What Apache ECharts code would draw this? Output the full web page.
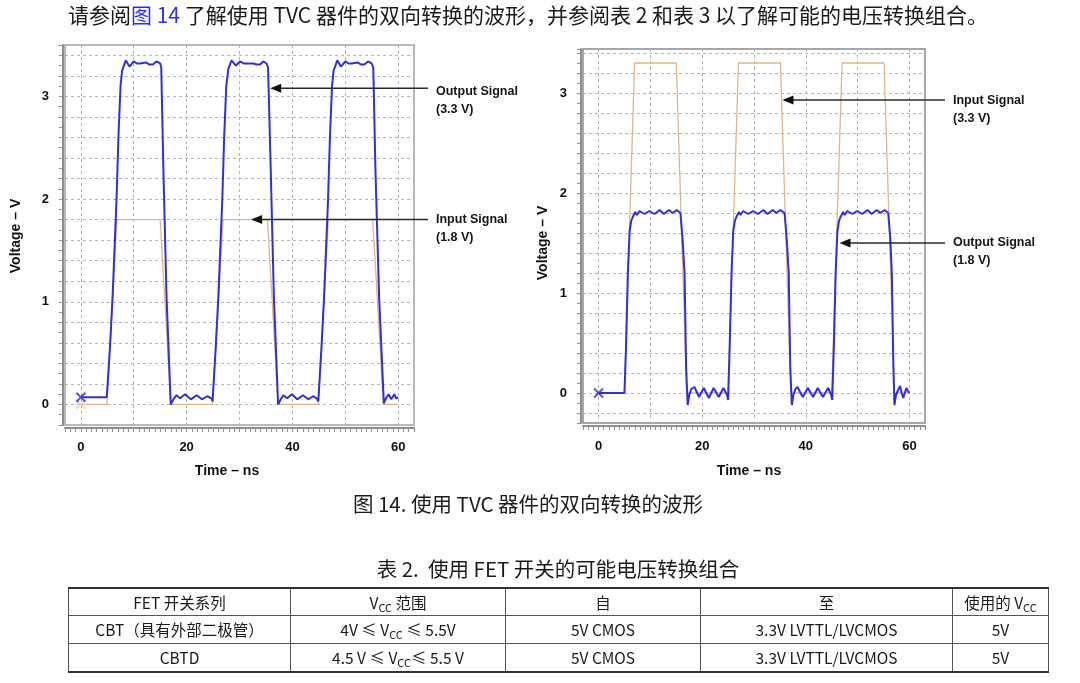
<!DOCTYPE html>
<html>
<head>
<meta charset="utf-8">
<script src="https://cdn.jsdelivr.net/npm/echarts@6/dist/echarts.min.js"></script>
<style>
  html, body { margin: 0; padding: 0; background: #fff; }
  #page { position: relative; width: 1080px; height: 683px; overflow: hidden; background: #fff; }
  #chart { position: absolute; left: 0; top: 0; width: 1080px; height: 683px; }
  .cn { position: absolute; font-family: "Noto Sans CJK SC", "Liberation Sans", sans-serif; color: #1a1a1a; white-space: nowrap; }
  #para { left: 68px; top: 0px; font-size: 21px; line-height: 28px; }
  #para .lnk { color: #2b2bff; }
  #caption { left: 0; width: 1056px; top: 489px; text-align: center; font-size: 20.5px; line-height: 28px; }
  #ttitle { left: 0; width: 1116px; top: 554px; text-align: center; font-size: 20.5px; line-height: 28px; }
  #tbl { position: absolute; left: 68px; top: 587px; border-collapse: collapse; font-family: "Noto Sans CJK SC", "Liberation Sans", sans-serif; font-size: 15.5px; color: #1a1a1a; }
  #tbl td { border-left: 1px solid #555; border-right: 1px solid #555; border-bottom: 1px solid #555; text-align: center; padding: 0; line-height: 17px; }
  #tbl tr.h td { border-top: 2px solid #333; height: 26px; }
  #tbl tr.r td { height: 27px; }
  #tbl tr.last td { border-bottom: 2px solid #333; }
  #tbl sub { font-size: 11px; vertical-align: -3px; line-height: 0; }
</style>
</head>
<body>
<div id="page">
  <div id="chart"></div>
  <div id="para" class="cn">请参阅<span class="lnk">图 14</span> 了解使用 TVC 器件的双向转换的波形，并参阅表 2 和表 3 以了解可能的电压转换组合。</div>
  <div id="caption" class="cn">图 14. 使用 TVC 器件的双向转换的波形</div>
  <div id="ttitle" class="cn">表 2.&nbsp; 使用 FET 开关的可能电压转换组合</div>
  <table id="tbl">
    <colgroup><col style="width:222px"><col style="width:215px"><col style="width:195px"><col style="width:252px"><col style="width:96px"></colgroup>
    <tr class="h"><td>FET 开关系列</td><td>V<sub>CC</sub> 范围</td><td>自</td><td>至</td><td>使用的 V<sub>CC</sub></td></tr>
    <tr class="r"><td>CBT（具有外部二极管）</td><td>4V ≤ V<sub>CC</sub> ≤ 5.5V</td><td>5V CMOS</td><td>3.3V LVTTL/LVCMOS</td><td>5V</td></tr>
    <tr class="r last"><td>CBTD</td><td>4.5 V ≤ V<sub>CC</sub>≤ 5.5 V</td><td>5V CMOS</td><td>3.3V LVTTL/LVCMOS</td><td>5V</td></tr>
  </table>
</div>
<script>
// ---------- data (time in ns, voltage in V) ----------
const xTickLabels = [0, 20, 40, 60];
const yTickLabels = [0, 1, 2, 3];

// Left panel: 1.8 V input -> 3.3 V output
const leftInput = [
  [0, 0], [4.9, 0], [6.8, 1.8], [15.0, 1.8], [17.0, 0],
  [24.9, 0], [26.9, 1.8], [35.3, 1.8], [37.3, 0],
  [44.9, 0], [46.8, 1.8], [55.2, 1.8], [57.2, 0], [60, 0]
];
const leftOutput = [
  [0, 0.07], [4.9, 0.07], [5.5, 0.55], [6.0, 1.05], [6.75, 2.0], [7.1, 2.6], [7.5, 3.1], [7.8, 3.25],
  [8.5, 3.35], [9.2, 3.29], [10.0, 3.34], [10.6, 3.32], [11.2, 3.32], [12.3, 3.33], [13.0, 3.31],
  [13.6, 3.31], [14.3, 3.34], [15.0, 3.32], [15.2, 3.28], [15.6, 2.3], [16.2, 1.05], [17.0, 0.0],
  [17.5, 0.05], [18.1, 0.09], [18.75, 0.06], [19.7, 0.1], [20.8, 0.05], [21.9, 0.09], [22.9, 0.05],
  [23.9, 0.08], [24.7, 0.06], [24.9, 0.03],
  [25.5, 0.55], [26.0, 1.05], [26.75, 2.0], [27.1, 2.6], [27.5, 3.1], [27.9, 3.27],
  [28.5, 3.35], [29.3, 3.3], [30.1, 3.34], [30.8, 3.32], [31.4, 3.32], [32.6, 3.32], [33.3, 3.31],
  [33.9, 3.31], [34.5, 3.34], [35.1, 3.32], [35.4, 3.28], [35.9, 2.3], [36.5, 1.05], [37.3, 0.0],
  [37.8, 0.05], [38.3, 0.09], [39.0, 0.06], [39.9, 0.1], [40.9, 0.05], [42.0, 0.09], [43.0, 0.05],
  [43.9, 0.08], [44.6, 0.06], [44.9, 0.03],
  [45.5, 0.55], [46.0, 1.05], [46.75, 2.0], [47.1, 2.6], [47.5, 3.1], [47.8, 3.25],
  [48.5, 3.35], [49.2, 3.29], [50.0, 3.34], [50.6, 3.32], [51.2, 3.32], [52.3, 3.33], [53.0, 3.31],
  [53.6, 3.31], [54.3, 3.34], [55.0, 3.32], [55.3, 3.28], [55.7, 2.3], [56.4, 1.05], [57.3, 0.01],
  [57.7, 0.06], [58.2, 0.1], [58.7, 0.05], [59.3, 0.1], [59.6, 0.06], [60.0, 0.07]
];
const leftInputStart = [[0, 0]];
const leftOutputStart = [[0, 0.07]];

// Right panel: 3.3 V input -> 1.8 V output
const rightInput = [
  [0, 0], [5.0, 0], [6.95, 3.3], [15.0, 3.3], [17.0, 0],
  [25.0, 0], [27.0, 3.3], [35.1, 3.3], [37.1, 0],
  [45.0, 0], [47.0, 3.3], [55.1, 3.3], [57.1, 0], [60, 0]
];
const rightOutput = [
  [0, 0], [5.0, 0], [5.3, 0.45], [5.66, 1.2], [6.0, 1.62], [6.3, 1.72], [6.6, 1.76], [7.1, 1.81],
  [7.4, 1.78], [7.9, 1.82], [8.9, 1.79], [9.8, 1.82], [10.8, 1.79], [11.8, 1.83], [12.6, 1.79],
  [13.6, 1.83], [14.3, 1.8], [15.1, 1.83], [15.8, 1.8], [16.2, 1.55], [16.6, 1.2], [16.9, 0.26],
  [17.2, -0.12], [17.5, -0.02], [17.9, 0.04], [18.5, 0.06], [19.4, -0.04], [20.3, 0.05], [21.3, -0.05],
  [22.2, 0.05], [23.2, -0.04], [24.1, 0.05], [24.8, -0.02], [25.0, -0.07],
  [25.3, 0.45], [25.66, 1.2], [26.0, 1.62], [26.3, 1.72], [26.6, 1.76], [27.1, 1.81],
  [27.4, 1.78], [27.9, 1.82], [28.9, 1.79], [29.8, 1.82], [30.8, 1.79], [31.8, 1.83], [32.6, 1.79],
  [33.6, 1.83], [34.3, 1.8], [35.1, 1.83], [35.9, 1.8], [36.3, 1.55], [36.7, 1.2], [37.0, 0.26],
  [37.3, -0.12], [37.6, -0.02], [38.0, 0.04], [38.4, 0.06], [39.4, -0.04], [40.4, 0.05], [41.4, -0.04],
  [42.3, 0.05], [43.3, -0.04], [44.3, 0.05], [44.9, -0.02], [45.1, -0.07],
  [45.4, 0.45], [45.76, 1.2], [46.1, 1.62], [46.4, 1.72], [46.7, 1.76], [47.2, 1.81],
  [47.5, 1.78], [48.0, 1.82], [49.0, 1.79], [49.9, 1.82], [50.9, 1.79], [51.9, 1.83], [52.7, 1.79],
  [53.7, 1.83], [54.4, 1.8], [55.2, 1.83], [55.9, 1.8], [56.3, 1.55], [56.6, 1.2], [56.9, 0.26],
  [57.1, -0.12], [57.4, -0.02], [57.8, 0.03], [58.2, 0.07], [58.5, 0.0], [58.8, -0.05], [59.1, 0.0],
  [59.4, 0.05], [59.7, 0.02], [60.0, 0.0]
];
const rightOutputStart = [[0, 0]];

// annotation anchors (data coords of arrow tips) and texts
const leftOutArrow = [35.8, 3.08];
const leftInArrow = [32.2, 1.8];
const rightInArrow = [35.5, 2.93];
const rightOutArrow = [46.5, 1.5];
const annotationTexts = [
  ['Output Signal', '(3.3 V)'],
  ['Input Signal', '(1.8 V)'],
  ['Input Signal', '(3.3 V)'],
  ['Output Signal', '(1.8 V)']
];

// ---------- styling ----------
const BLUE = '#3030d8';
const TAN = '#e3b48a';
const GRID = '#b4b4b4';
const AXIS = '#8e8e8e';
const T = 'rgba(0,0,0,0)';
const FONT = '"Liberation Sans", Arial, sans-serif';

function xLabel(v) {
  const r = Math.round(v);
  return (Math.abs(v - r) < 1e-6 && xTickLabels.includes(r)) ? String(r) : '';
}
function yLabel(v) {
  const r = Math.round(v);
  return (Math.abs(v - r) < 1e-6 && yTickLabels.includes(r)) ? String(r) : '';
}

function makeX(gridIndex, margin) {
  return {
    type: 'value', gridIndex, min: -3, max: 63, interval: 1, offset: 3,
    axisLine: { show: true, onZero: false, lineStyle: { color: AXIS, width: 2 } },
    axisTick: { show: true, inside: false, length: 4, lineStyle: { color: AXIS, width: 1 } },
    axisLabel: { formatter: xLabel, margin, color: '#111', fontWeight: 'bold', fontSize: 13, fontFamily: FONT, showMinLabel: true, showMaxLabel: true },
    splitLine: { show: true, showMinLine: true, showMaxLine: true, lineStyle: { type: [3, 3], width: 1, color: [T, T, T, GRID, T, T, T, T, T, T] } }
  };
}
function makeY(gridIndex, min, max, colors) {
  return {
    type: 'value', gridIndex, min, max, interval: 0.1, offset: 2,
    axisLine: { show: true, onZero: false, lineStyle: { color: AXIS, width: 2 } },
    axisTick: { show: true, inside: false, length: 4, lineStyle: { color: AXIS, width: 1 } },
    axisLabel: { formatter: yLabel, margin: 14, color: '#111', fontWeight: 'bold', fontSize: 13, fontFamily: FONT },
    splitLine: { show: true, showMinLine: true, showMaxLine: true, lineStyle: { type: [3, 3], width: 1, color: colors } }
  };
}

const crossSymbol = 'path://M0,0 L10,10 M10,0 L0,10';

const chart = echarts.init(document.getElementById('chart'), null, { renderer: 'canvas' });
const option = {
  animation: false,
  backgroundColor: 'transparent',
  grid: [
    { left: 65, top: 45, width: 349, height: 380, show: true, borderColor: '#a2a2a2', borderWidth: 1.5, backgroundColor: '#fff' },
    { left: 583, top: 49, width: 342, height: 374, show: true, borderColor: '#8a8a8a', borderWidth: 1.5, backgroundColor: '#fff' }
  ],
  xAxis: [makeX(0, 13), makeX(1, 14)],
  yAxis: [
    makeY(0, -0.2, 3.5, [GRID, T]),
    makeY(1, -0.3, 3.44, [T, GRID])
  ],
  series: [
    { type: 'line', xAxisIndex: 0, yAxisIndex: 0, data: leftInput, showSymbol: false, lineStyle: { color: TAN, width: 1.3 }, z: 2 },
    { type: 'line', xAxisIndex: 0, yAxisIndex: 0, data: leftOutput, showSymbol: false, lineStyle: { color: BLUE, width: 2 }, z: 3 },
    { type: 'scatter', xAxisIndex: 0, yAxisIndex: 0, data: leftInputStart, symbol: crossSymbol, symbolSize: 9, itemStyle: { color: 'none', borderColor: '#e8cfb4', borderWidth: 1.8 }, z: 4 },
    { type: 'scatter', xAxisIndex: 0, yAxisIndex: 0, data: leftOutputStart, symbol: crossSymbol, symbolSize: 9, itemStyle: { color: 'none', borderColor: BLUE, borderWidth: 2 }, z: 5 },
    { type: 'line', xAxisIndex: 1, yAxisIndex: 1, data: rightInput, showSymbol: false, lineStyle: { color: TAN, width: 1.3 }, z: 2 },
    { type: 'line', xAxisIndex: 1, yAxisIndex: 1, data: rightOutput, showSymbol: false, lineStyle: { color: BLUE, width: 2 }, z: 3 },
    { type: 'scatter', xAxisIndex: 1, yAxisIndex: 1, data: rightOutputStart, symbol: crossSymbol, symbolSize: 9, itemStyle: { color: 'none', borderColor: BLUE, borderWidth: 2 }, z: 5 }
  ]
};
chart.setOption(option);

// ---------- annotations (arrows + labels) ----------
function arrow(tip, tailX) {
  const [x, y] = tip;
  return [
    { type: 'line', shape: { x1: x + 9, y1: y, x2: tailX, y2: y }, style: { stroke: '#2a2a2a', lineWidth: 1.5 }, z: 100 },
    { type: 'polygon', shape: { points: [[x, y], [x + 11, y - 4.5], [x + 11, y + 4.5]] }, style: { fill: '#111' }, z: 100 }
  ];
}
function label(lines, x, y) {
  const st = { fill: '#151515', font: 'bold 12.5px ' + FONT, textVerticalAlign: 'middle' };
  return [
    { type: 'text', x: x, y: y, style: Object.assign({ text: lines[0] }, st), z: 100 },
    { type: 'text', x: x, y: y + 18, style: Object.assign({ text: lines[1] }, st), z: 100 }
  ];
}
const p1 = chart.convertToPixel({ gridIndex: 0 }, leftOutArrow);
const p2 = chart.convertToPixel({ gridIndex: 0 }, leftInArrow);
const p3 = chart.convertToPixel({ gridIndex: 1 }, rightInArrow);
const p4 = chart.convertToPixel({ gridIndex: 1 }, rightOutArrow);

const axisNameStyle = { fill: '#111', font: 'bold 14px ' + FONT, textAlign: 'center', textVerticalAlign: 'middle' };
const elements = [].concat(
  arrow(p1, 428), label(annotationTexts[0], 436, p1[1] + 3),
  arrow(p2, 428), label(annotationTexts[1], 436, p2[1]),
  arrow(p3, 945), label(annotationTexts[2], 953, p3[1] + 1),
  arrow(p4, 945), label(annotationTexts[3], 953, p4[1]),
  [
    { type: 'text', x: 227, y: 471, style: Object.assign({ text: 'Time – ns' }, axisNameStyle) },
    { type: 'text', x: 749, y: 471, style: Object.assign({ text: 'Time – ns' }, axisNameStyle) },
    { type: 'text', x: 16, y: 236, rotation: Math.PI / 2, style: Object.assign({ text: 'Voltage – V' }, axisNameStyle) },
    { type: 'text', x: 543, y: 243, rotation: Math.PI / 2, style: Object.assign({ text: 'Voltage – V' }, axisNameStyle) }
  ]
);
chart.setOption({ graphic: { elements } });
</script>
</body>
</html>
